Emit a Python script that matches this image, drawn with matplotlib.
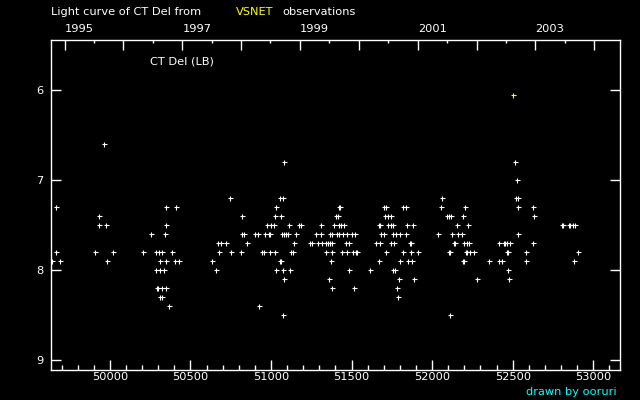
import datetime
import matplotlib
matplotlib.use("Agg")
import matplotlib.pyplot as plt

# observations (JD - 2400000, visual magnitude)
jd = [49642, 49667, 49667, 49691, 49909, 49934, 49934, 49965, 49977, 49983,
      50020, 50207, 50256, 50287, 50287, 50294, 50300, 50304, 50312, 50312,
      50312, 50325, 50325, 50325, 50337, 50343, 50349, 50349, 50349, 50349,
      50368, 50387, 50405, 50412, 50430, 50635, 50660, 50672, 50678, 50689,
      50722, 50747, 50753, 50815, 50821, 50821, 50834, 50852, 50903, 50916,
      50927, 50945, 50958, 50964, 50976, 50989, 50995, 50995, 51001, 51020,
      51026, 51026, 51032, 51032, 51057, 51057, 51064, 51063, 51069, 51074,
      51076, 51076, 51082, 51082, 51082, 51094, 51107, 51113, 51119, 51125,
      51138, 51144, 51156, 51171, 51186, 51243, 51256, 51281, 51293, 51312,
      51312, 51318, 51343, 51343, 51355, 51361, 51367, 51367, 51374, 51380,
      51380, 51380, 51380, 51392, 51401, 51411, 51413, 51423, 51428, 51423,
      51423, 51436, 51442, 51448, 51454, 51467, 51473, 51473, 51485, 51485,
      51504, 51510, 51516, 51523, 51529, 51535, 51616, 51653, 51672, 51678,
      51672, 51678, 51684, 51703, 51703, 51715, 51709, 51715, 51727, 51727,
      51746, 51746, 51746, 51758, 51758, 51765, 51760, 51767, 51777, 51783,
      51790, 51796, 51802, 51802, 51821, 51839, 51821, 51839, 51845, 51852,
      51864, 51870, 51870, 51876, 51883, 51889, 51914, 52038, 52056, 52063,
      52094, 52106, 52107, 52113, 52112, 52118, 52125, 52134, 52140, 52156,
      52162, 52187, 52193, 52191, 52197, 52199, 52205, 52209, 52215, 52218,
      52224, 52230, 52236, 52261, 52280, 52354, 52416, 52416, 52435, 52444,
      52450, 52466, 52463, 52469, 52472, 52479, 52485, 52516, 52522, 52528,
      52534, 52534, 52534, 52584, 52584, 52627, 52627, 52634, 52804, 52810,
      52848, 52854, 52876, 52882, 52888, 52907]
mag = [7.9, 7.3, 7.8, 7.9, 7.8, 7.4, 7.5, 6.6, 7.5, 7.9,
       7.8, 7.8, 7.6, 7.8, 8.0, 8.2, 8.2, 7.8, 7.9, 8.0,
       8.3, 7.8, 8.2, 8.3, 8.0, 7.6, 7.3, 7.5, 7.9, 8.2,
       8.4, 7.8, 7.9, 7.3, 7.9, 7.9, 8.0, 7.7, 7.8, 7.7,
       7.7, 7.2, 7.8, 7.8, 7.4, 7.6, 7.6, 7.7, 7.6, 7.6,
       8.4, 7.8, 7.8, 7.6, 7.5, 7.6, 7.6, 7.8, 7.5, 7.5,
       7.4, 7.8, 7.3, 8.0, 7.2, 7.9, 7.9, 7.4, 7.6, 7.2,
       8.0, 8.5, 6.8, 7.6, 8.1, 7.6, 7.6, 7.5, 8.0, 7.8,
       7.8, 7.7, 7.6, 7.5, 7.5, 7.7, 7.7, 7.6, 7.7, 7.5,
       7.6, 7.7, 7.7, 7.8, 7.7, 8.1, 7.6, 7.7, 7.9, 7.6,
       7.7, 7.8, 8.2, 7.5, 7.4, 7.6, 7.4, 7.3, 7.3, 7.5,
       7.6, 7.5, 7.8, 7.6, 7.5, 7.7, 7.6, 7.8, 7.7, 8.0,
       7.6, 7.8, 8.2, 7.6, 7.8, 7.8, 8.0, 7.7, 7.5, 7.5,
       7.9, 7.7, 7.6, 7.6, 7.3, 7.3, 7.4, 7.8, 7.4, 7.5,
       7.4, 7.5, 7.7, 7.5, 7.6, 7.7, 8.0, 8.0, 7.6, 8.2,
       8.3, 8.1, 7.6, 7.9, 7.3, 7.3, 7.8, 7.6, 7.5, 7.9,
       7.7, 7.7, 7.8, 7.9, 7.5, 8.1, 7.8, 7.6, 7.3, 7.2,
       7.4, 7.4, 7.8, 7.8, 8.5, 7.4, 7.6, 7.7, 7.7, 7.5,
       7.6, 7.6, 7.4, 7.9, 7.9, 7.7, 7.3, 7.8, 7.8, 7.7,
       7.5, 7.7, 7.8, 7.8, 8.1, 7.9, 7.7, 7.9, 7.9, 7.7,
       7.7, 7.7, 7.8, 7.8, 8.0, 8.1, 7.7, 6.8, 7.2, 7.0,
       7.2, 7.3, 7.6, 7.8, 7.9, 7.3, 7.7, 7.4, 7.5, 7.5,
       7.5, 7.5, 7.5, 7.9, 7.5, 7.8]

# the single highlighted observation
jd_hl = [52503]
mag_hl = [6.05]

years = list(range(1995, 2005))
label_years = [1995, 1997, 1999, 2001, 2003]
mag_ticks = [6, 7, 8, 9]


def to_jd(d):
    return (d - datetime.date(1858, 11, 17)).days + 0.5


W, H = 640, 400
fig = plt.figure(figsize=(6.4, 4.0), dpi=100, facecolor="black")
ax = fig.add_axes([50.5 / W, 30 / H, 569.5 / W, 330 / H], facecolor="black")

ax.plot(jd, mag, linestyle="none", marker="+", color="white",
        markersize=3.6, markeredgewidth=0.8)
ax.plot(jd_hl, mag_hl, linestyle="none", marker="+", color="yellow",
        markersize=3.6, markeredgewidth=0.8)

ax.set_xlim(49631, 53166)
ax.set_ylim(9.111, 5.444)

for s in ax.spines.values():
    s.set_color("white")
    s.set_linewidth(1.0)

fs = 8.2
ax.set_xticks(range(50000, 53001, 500))
ax.set_xticks(range(49700, 53101, 100), minor=True)
ax.set_yticks(mag_ticks)
ax.set_yticklabels([str(m) for m in mag_ticks])
ax.tick_params(axis="x", which="major", direction="in", length=7.2, width=1,
               color="white", labelcolor="white", labelsize=fs, pad=1.5)
ax.tick_params(axis="x", which="minor", direction="in", length=3.6, width=1,
               color="white")
ax.tick_params(axis="y", which="major", direction="in", length=7.2, width=1,
               color="white", labelcolor="white", labelsize=fs, pad=5,
               right=True)

# year axis on top
top = ax.twiny()
top.set_xlim(ax.get_xlim())
top.set_xticks([to_jd(datetime.date(y, 1, 1)) for y in years])
top.set_xticklabels([str(y) if y in label_years else "" for y in years])
top.set_xticks([to_jd(datetime.date(y, 7, 2)) for y in years[:-1]], minor=True)
top.tick_params(axis="x", which="major", direction="in", length=7.2, width=1,
                color="white", labelcolor="white", labelsize=fs, pad=4)
top.tick_params(axis="x", which="minor", direction="in", length=2.4, width=1,
                color="white")
for lab in top.get_xticklabels():
    lab.set_horizontalalignment("left")
for s in top.spines.values():
    s.set_visible(False)

fig.text(51 / W, 1 - 12 / H, "Light curve of CT Del from", color="white",
         fontsize=fs, va="center", ha="left")
fig.text(236 / W, 1 - 12 / H, "VSNET", color="yellow",
         fontsize=fs, va="center", ha="left")
fig.text(282 / W, 1 - 12 / H, "observations", color="white",
         fontsize=fs, va="center", ha="left")
fig.text(150 / W, 1 - 61 / H, "CT Del (LB)", color="white",
         fontsize=fs, va="center", ha="left")
fig.text(617 / W, 1 - 392 / H, "drawn by ooruri", color="cyan",
         fontsize=fs, va="center", ha="right")

fig.savefig("out.png", dpi=100, facecolor="black")
